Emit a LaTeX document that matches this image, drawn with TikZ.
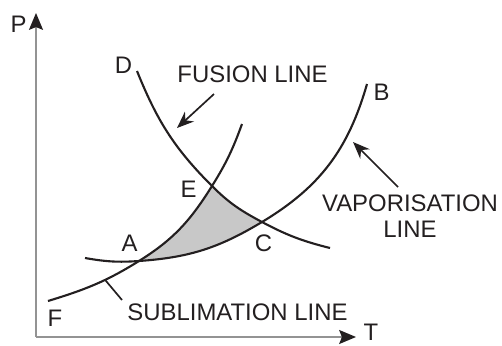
\documentclass[tikz,border=0pt]{standalone}
\usepackage{fontspec}
\setmainfont{Liberation Sans}
\usetikzlibrary{arrows.meta}
\definecolor{regiongray}{HTML}{C8C8C8}
\definecolor{ink}{HTML}{231F20}
\tikzset{
  curve/.style={line width=1.5pt, draw=ink},
  axis/.style={line width=1pt, draw=gray!85},
  pointer/.style={line width=1.2pt, draw=ink, -{Stealth[length=12pt,width=9.5pt]}},
  lbl/.style={text=ink, inner sep=0pt}
}
\begin{document}
\begin{tikzpicture}[x=0.025cm, y=0.025cm,
    >={Stealth[length=12pt,width=10pt,inset=2pt,color=ink]},
    font=\fontsize{17}{18.1}\selectfont]
  \useasboundingbox (0,0) rectangle (502,345);
  % axes
  \coordinate (O) at (36,8);
  \coordinate (Ptop) at (36,332);
  \coordinate (Tend) at (356,8);
  \draw[axis, ->] (O) -- (Ptop);
  \draw[axis, ->] (O) -- (Tend);
  \node[lbl] (p) at (18.5,320.5) {P};
  \node[lbl] (t) at (371,13) {T};
  % crossing points and line ends
  \coordinate (A) at (139,84);
  \coordinate (E) at (212,159);
  \coordinate (C) at (262,123);
  \coordinate (F) at (48,44);
  \coordinate (Ftop) at (242,221);
  \coordinate (D) at (137,274);
  \coordinate (Dend) at (330,97);
  \coordinate (Bstart) at (85,87);
  \coordinate (B) at (367,261);
  % shaded part
  \fill[regiongray] (A) to[out=32,in=238] (E) to[out=-45,in=152] (C) to[out=211,in=4] (A) -- cycle;
  % the three lines
  \draw[curve] (F) to[out=17,in=212] coordinate[pos=0.62] (S) (A)
    to[out=32,in=238] (E) to[out=58,in=250] (Ftop);
  \draw[curve] (D) to[out=-68,in=135] (E) to[out=-45,in=152] (C) to[out=-28,in=166] (Dend);
  \draw[curve] (Bstart) to[out=-10,in=184] (A) to[out=4,in=211] (C) to[out=31,in=254] (B);
  \coordinate (Send) at (122,45);
  \draw[line width=1.2pt, draw=ink] (S) -- (Send);
  % letters
  \node[lbl] (d) at (123.5,280) {D};
  \node[lbl] (b) at (381.5,252.5) {B};
  \node[lbl] (e) at (188.5,155.5) {E};
  \node[lbl] (a) at (129.5,101.5) {A};
  \node[lbl] (c) at (263.5,101.5) {C};
  \node[lbl] (f) at (55,27) {F};
  % names of the lines
  \node[lbl] (fus) at (252.5,271) {FUSION LINE};
  \node[lbl, align=center] (vap) at (410,128.75) {VAPORISATION\\LINE};
  \node[lbl] (sub) at (237.5,32.5) {SUBLIMATION LINE};
  \coordinate (fusTail) at (214,251);
  \coordinate (fusTip) at (177,217);
  \draw[pointer] (fusTail) -- (fusTip);
  \coordinate (vapTail) at (398,158);
  \coordinate (vapTip) at (353,203);
  \draw[pointer] (vapTail) -- (vapTip);
\end{tikzpicture}
\end{document}
